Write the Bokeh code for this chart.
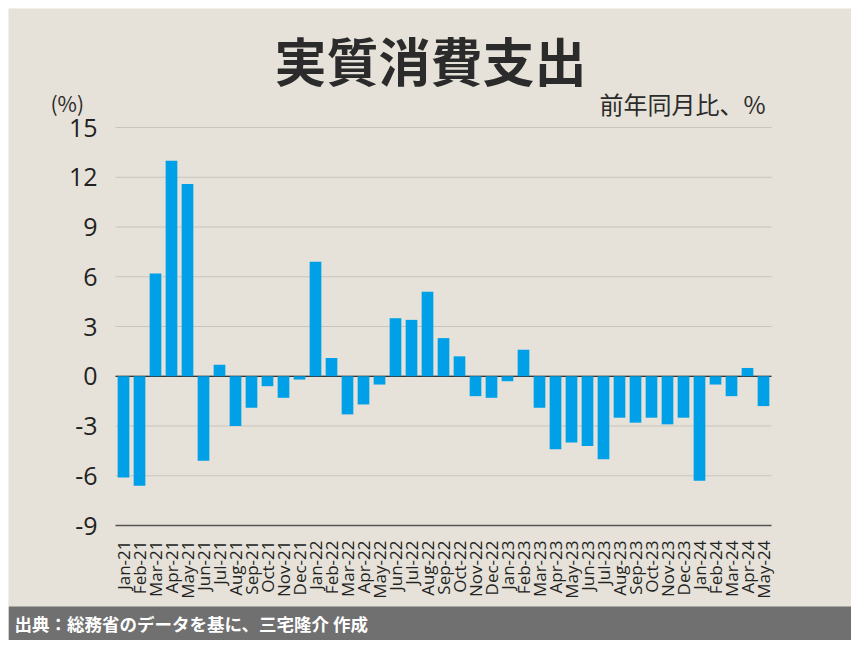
import math
from bokeh.plotting import figure
from bokeh.models import (Range1d, FixedTicker, ColumnDataSource, PrintfTickFormatter)
from bokeh.core.properties import value
from bokeh.embed import file_html
from bokeh.resources import INLINE

months = ["Jan-21", "Feb-21", "Mar-21", "Apr-21", "May-21", "Jun-21", "Jul-21", "Aug-21",
          "Sep-21", "Oct-21", "Nov-21", "Dec-21", "Jan-22", "Feb-22", "Mar-22", "Apr-22",
          "May-22", "Jun-22", "Jul-22", "Aug-22", "Sep-22", "Oct-22", "Nov-22", "Dec-22",
          "Jan-23", "Feb-23", "Mar-23", "Apr-23", "May-23", "Jun-23", "Jul-23", "Aug-23",
          "Sep-23", "Oct-23", "Nov-23", "Dec-23", "Jan-24", "Feb-24", "Mar-24", "Apr-24",
          "May-24"]
values = [-6.1, -6.6, 6.2, 13.0, 11.6, -5.1, 0.7, -3.0,
          -1.9, -0.6, -1.3, -0.2, 6.9, 1.1, -2.3, -1.7,
          -0.5, 3.5, 3.4, 5.1, 2.3, 1.2, -1.2, -1.3,
          -0.3, 1.6, -1.9, -4.4, -4.0, -4.2, -5.0, -2.5,
          -2.8, -2.5, -2.9, -2.5, -6.3, -0.5, -1.2, 0.5,
          -1.8]
y_ticks = [-9, -6, -3, 0, 3, 6, 9, 12, 15]
title_text = "実質消費支出"
subtitle_text = "前年同月比、%"
unit_text = "(%)"
source_text = "出典：総務省のデータを基に、三宅隆介 作成"

BG = "#E6E2D9"
BAR = "#00A0E9"
FOOT = "#707070"
GRID = "#C9C5BD"
INK = "#2B2B2B"
JP = "Noto Sans CJK JP"

# canvas geometry (pixels): chart area 107..763 wide, 119..517 tall
W, H = 843, 632
N = len(months)
Y_MIN, Y_MAX = y_ticks[0], y_ticks[-1]
PX_X = 16.0
PX_Y = 398.0 / (Y_MAX - Y_MIN)

def X(px):
    return (px - 107) / PX_X

def Y(py):
    return Y_MAX - (py - 119) / PX_Y

idx = [i + 0.5 for i in range(N)]
src = ColumnDataSource(dict(x=idx, value=values, month=months))

p = figure(width=W, height=H,
           x_range=Range1d(X(0), X(W)), y_range=Range1d(Y(H), Y(0)),
           min_border_left=0, min_border_right=0, min_border_top=0, min_border_bottom=0,
           output_backend="svg", toolbar_location=None,
           background_fill_color=BG, border_fill_color=BG,
           outline_line_color=None, margin=(8, 8, 8, 8))
p.grid.visible = False

# y axis fixed at the chart's left edge
p.yaxis.fixed_location = 0
p.yaxis.bounds = (Y_MIN, Y_MAX)
p.yaxis.ticker = FixedTicker(ticks=y_ticks)
p.yaxis.formatter = PrintfTickFormatter(format="%d")
p.yaxis.axis_line_color = None
p.yaxis.major_tick_line_color = None
p.yaxis.minor_tick_line_color = None
p.yaxis.major_label_text_font = "Open Sans"
p.yaxis.major_label_text_font_size = "25px"
p.yaxis.major_label_text_color = "#222222"
p.yaxis.major_label_standoff = 12

# x axis fixed at y = -9
p.xaxis.fixed_location = Y_MIN
p.xaxis.bounds = (0, N)
p.xaxis.ticker = FixedTicker(ticks=idx)
p.xaxis.major_label_overrides = {x: m for x, m in zip(idx, months)}
p.xaxis.axis_line_color = "#555555"
p.xaxis.axis_line_width = 1.5
p.xaxis.major_tick_line_color = None
p.xaxis.minor_tick_line_color = None
p.xaxis.major_label_orientation = math.pi / 2
p.xaxis.major_label_text_font = "Open Sans"
p.xaxis.major_label_text_font_size = "17px"
p.xaxis.major_label_text_color = "#222222"
p.xaxis.major_label_standoff = 9

# horizontal grid lines over the chart area
p.segment(x0=[0] * len(y_ticks), x1=[N] * len(y_ticks), y0=y_ticks, y1=y_ticks,
          line_color=GRID, line_width=1)
p.segment(x0=[0], x1=[N], y0=[0], y1=[0], line_color="black", line_width=1)

p.vbar(x="x", top="value", width=0.73, source=src, fill_color=BAR, line_color=None)

# header texts
p.text(x=[X(422)], y=[Y(51)], text=[title_text], text_font=value(JP),
       text_font_style="bold", text_font_size=value("52px"), text_color=INK,
       text_align="center", text_baseline="middle")
p.text(x=[X(757)], y=[Y(95)], text=[subtitle_text], text_font=value(JP),
       text_font_size=value("24px"), text_color=INK,
       text_align="right", text_baseline="middle")
p.text(x=[X(42)], y=[Y(94)], text=[unit_text], text_font=value(JP),
       text_font_size=value("21px"), text_color=INK,
       text_align="left", text_baseline="middle")

# footer band and source text
p.quad(left=[X(0)], right=[X(W)], top=[Y(598)], bottom=[Y(H)],
       fill_color=FOOT, line_color=None)
p.text(x=[X(6)], y=[Y(615)], text=[source_text], text_font=value(JP),
       text_font_style="bold", text_font_size=value("17.5px"), text_color="white",
       text_align="left", text_baseline="middle")

open("out.html", "w").write(file_html(p, INLINE))
